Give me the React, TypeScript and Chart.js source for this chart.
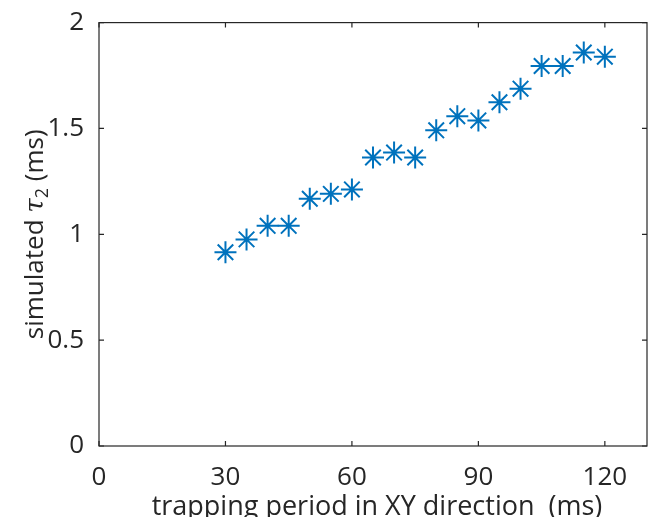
import React, { useEffect, useRef } from "react";
import { Chart, registerables } from "chart.js";

Chart.register(...registerables);

const periods = [30, 35, 40, 45, 50, 55, 60, 65, 70, 75, 80, 85, 90, 95, 100, 105, 110, 115, 120];
const tau2 = [0.915, 0.976, 1.04, 1.04, 1.168, 1.191, 1.212, 1.363, 1.386, 1.363, 1.491, 1.558, 1.538, 1.624, 1.688, 1.795, 1.795, 1.859, 1.839];
const xTicks = [0, 30, 60, 90, 120];
const yTicks = [0, 0.5, 1, 1.5, 2];
const xTitle = "trapping period in XY direction  (ms)";
const yTitleParts = ["simulated ", "τ", "2", " (ms)"];

const FONT = "'Open Sans', Lato, sans-serif";
const TEXT = "#262626";
const BLUE = "#0072BD";
const FS = 26;
const TFS = 27;

const framePlugin = {
  id: "frame",
  afterDraw(chart: any) {
    const { ctx, chartArea, scales } = chart;
    const { left, right, top, bottom } = chartArea;
    const xs = scales.x;
    const ys = scales.y;
    ctx.save();
    ctx.strokeStyle = TEXT;
    ctx.lineWidth = 1.2;
    ctx.strokeRect(left, top, right - left, bottom - top);
    const tl = 5;
    ctx.beginPath();
    for (const v of xTicks) {
      const px = xs.getPixelForValue(v);
      ctx.moveTo(px, bottom);
      ctx.lineTo(px, bottom - tl);
      ctx.moveTo(px, top);
      ctx.lineTo(px, top + tl);
    }
    for (const v of yTicks) {
      const py = ys.getPixelForValue(v);
      ctx.moveTo(left, py);
      ctx.lineTo(left + tl, py);
      ctx.moveTo(right, py);
      ctx.lineTo(right - tl, py);
    }
    ctx.stroke();

    // x title
    ctx.fillStyle = TEXT;
    ctx.font = `${TFS}px ${FONT}`;
    ctx.textAlign = "center";
    ctx.textBaseline = "alphabetic";
    ctx.fillText(xTitle, (left + right) / 2 + 4, bottom + 69);

    // y title (rotated, with italic tau and subscript 2)
    const normal = `${FS}px ${FONT}`;
    const italic = `italic ${FS}px 'DejaVu Serif', serif`;
    const sub = `18px ${FONT}`;
    const fonts = [normal, italic, sub, normal];
    const offsets = [0, 0, 5, 0];
    const widths = yTitleParts.map((t, i) => {
      ctx.font = fonts[i];
      return ctx.measureText(t).width;
    });
    const total = widths.reduce((a, b) => a + b, 0);
    ctx.translate(43, (top + bottom) / 2);
    ctx.rotate(-Math.PI / 2);
    ctx.textAlign = "left";
    let x = -total / 2;
    yTitleParts.forEach((t, i) => {
      ctx.font = fonts[i];
      ctx.fillText(t, x, offsets[i]);
      x += widths[i];
    });
    ctx.restore();
  },
};

export default function App() {
  const ref = useRef<HTMLCanvasElement | null>(null);
  useEffect(() => {
    document.body.style.margin = "0";
    const chart = new Chart(ref.current as HTMLCanvasElement, {
      type: "scatter",
      data: {
        datasets: [
          {
            data: periods.map((p, i) => ({ x: p, y: tau2[i] })),
            pointStyle: "star",
            pointRadius: 11,
            pointBorderWidth: 2,
            borderColor: BLUE,
            backgroundColor: BLUE,
            pointBorderColor: BLUE,
          },
        ],
      },
      options: {
        animation: false,
        responsive: true,
        maintainAspectRatio: false,
        layout: { padding: { left: 0, right: 7, top: 19, bottom: 0 } },
        plugins: { legend: { display: false }, tooltip: { enabled: false } },
        scales: {
          x: {
            type: "linear",
            min: 0,
            max: 130,
            afterBuildTicks: (s: any) => {
              s.ticks = xTicks.map((v) => ({ value: v }));
            },
            afterFit: (s: any) => {
              s.height = 71;
            },
            grid: { display: false },
            border: { display: false },
            ticks: {
              color: TEXT,
              font: { family: FONT, size: FS },
              padding: 8,
              maxRotation: 0,
              callback: (v: any) => String(v),
            },
          },
          y: {
            type: "linear",
            min: 0,
            max: 2,
            afterBuildTicks: (s: any) => {
              s.ticks = yTicks.map((v) => ({ value: v }));
            },
            afterFit: (s: any) => {
              s.width = 99;
            },
            grid: { display: false },
            border: { display: false },
            ticks: {
              color: TEXT,
              font: { family: FONT, size: FS },
              padding: 7,
              callback: (v: any) => String(v),
            },
          },
        },
      },
      plugins: [framePlugin],
    });
    return () => chart.destroy();
  }, []);
  return (
    <div style={{ position: "fixed", left: 0, top: 0, width: 660, height: 517, background: "#fff" }}>
      <canvas ref={ref} />
    </div>
  );
}
